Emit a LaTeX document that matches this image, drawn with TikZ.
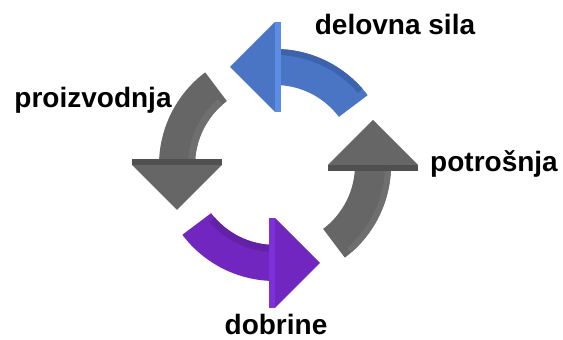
\documentclass[tikz,border=0pt]{standalone}
\usepackage{fontspec}
\setmainfont{Liberation Sans}
\definecolor{workblue}{HTML}{4A75C5}
\definecolor{workbluelt}{HTML}{5C8CE4}
\definecolor{workbluedk}{HTML}{3E63AD}
\definecolor{prodgray}{HTML}{666666}
\definecolor{prodgraydk}{HTML}{505050}
\definecolor{prodgraylt}{HTML}{6F6F6F}
\definecolor{goodsviolet}{HTML}{7127BF}
\definecolor{goodsvioletlt}{HTML}{7E30D8}
\definecolor{goodsvioletdk}{HTML}{6221A6}
\begin{document}
\begin{tikzpicture}[x=1pt,y=1pt,
    lbl/.style={font=\fontsize{28}{34}\selectfont\bfseries,anchor=base,inner sep=0pt}]
    \useasboundingbox (0,0) rectangle (563,340);
    \begin{scope}[shift={(275,175)}]
        \foreach \b/\fc/\sc/\bc/\ri/\ro in {90/workblue/workbluelt/workbluedk/110/116,
            180/prodgray/prodgraydk/prodgraylt/80/87,
            270/goodsviolet/goodsvioletlt/goodsvioletdk/80/87,
            360/prodgray/prodgraydk/prodgraylt/110/116}
        {
            \pgfmathsetmacro{\a}{\b-53}
            \fill[\fc] (\a:116) arc[start angle=\a, end angle=\b, radius=116]
                -- (\b:143) -- ([shift={(\b+90:45)}]\b:98) -- (\b:53)
                -- (\b:80) arc[start angle=\b, end angle=\a, radius=80] -- cycle;
            \fill[\bc] (\a+4:\ri) arc[start angle=\a+4, end angle=\b, radius=\ri]
                -- (\b:\ro) arc[start angle=\b, end angle=\a+4, radius=\ro] -- cycle;
            \fill[\sc] (\b:53) -- (\b:143) -- ([shift={(\b-90:6)}]\b:143)
                -- ([shift={(\b-90:6)}]\b:53) -- cycle;
        }
    \end{scope}
    \node[lbl] (labor) at (395,305) {delovna sila};
    \node[lbl] (production) at (93,232) {proizvodnja};
    \node[lbl] (consumption) at (494,168) {potrošnja};
    \node[lbl] (goods) at (276,5) {dobrine};
\end{tikzpicture}
\end{document}
